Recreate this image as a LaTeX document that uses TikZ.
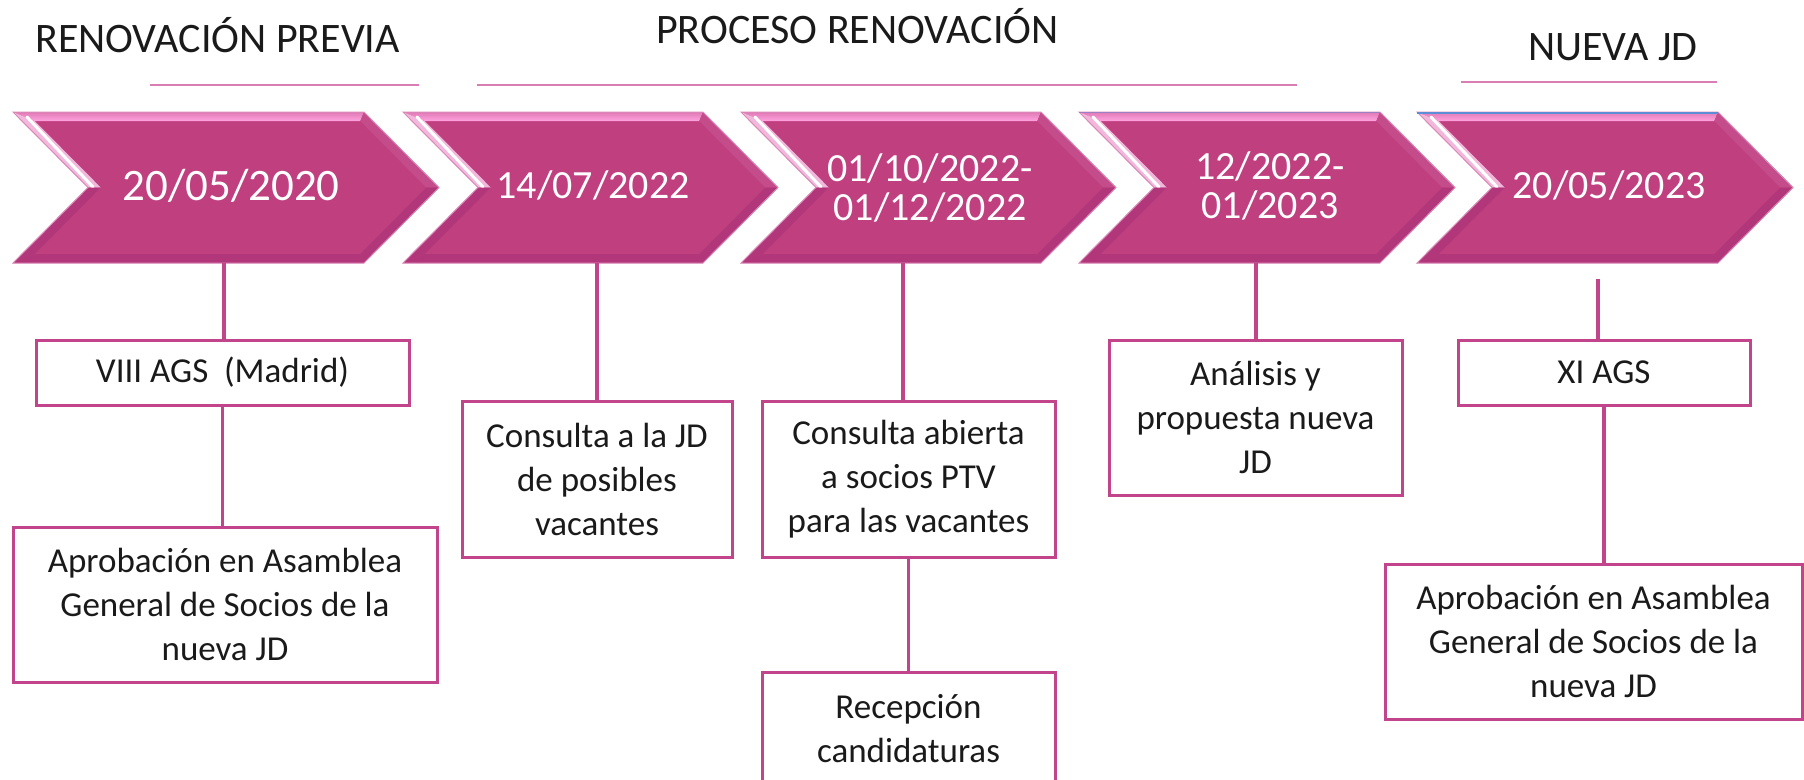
\documentclass[tikz,border=0pt]{standalone}
\usepackage{fontspec}
\setmainfont{Carlito}
\definecolor{chmain}{HTML}{BF3F7F}
\definecolor{chdark}{HTML}{B2377A}
\definecolor{chright}{HTML}{C54C8A}
\definecolor{chtopA}{HTML}{E07AB6}
\definecolor{chtopB}{HTML}{FFA2DE}
\definecolor{chleft}{HTML}{F2B8DC}
\definecolor{chedge}{HTML}{D98AB9}
\definecolor{boxc}{HTML}{C2448A}
\definecolor{hl}{HTML}{DA7DB2}
\definecolor{txt}{HTML}{1A1A1A}
\definecolor{blueedge}{HTML}{5B8ED6}
\definecolor{purpedge}{HTML}{9C80C4}
\newcommand\chevshape[2]{%
  \fill[chmain] (#1,112) -- (#2,112) -- ({#2+75},187.5) -- (#2,263) -- (#1,263) -- ({#1+75},187.5) -- cycle;
  \shade[top color=chtopA, bottom color=chtopB] (#1,112) -- (#2,112) -- ({#2-3.7},121) -- ({#1+21.7},121) -- cycle;
  \fill[chleft] (#1,112) -- ({#1+21.7},121) -- ({#1+87.7},187.5) -- ({#1+75},187.5) -- cycle;
  \draw[white, line width=3pt, line cap=round] ({#1+14},117) -- ({#1+80},187);
  \fill[chdark] ({#1+75},187.5) -- ({#1+87.7},187.5) -- ({#1+21.7},254) -- (#1,263) -- cycle;
  \fill[chdark] (#1,263) -- ({#1+21.7},254) -- ({#2-3.7},254) -- (#2,263) -- cycle;
  \fill[chright] (#2,112) -- ({#2+75},187.5) -- ({#2+62.3},187.5) -- ({#2-3.7},121) -- cycle;
  \fill[chdark] ({#2+75},187.5) -- (#2,263) -- ({#2-3.7},254) -- ({#2+62.3},187.5) -- cycle;
  \draw[chedge, line width=1pt] (#1,112) -- (#2,112) -- ({#2+75},187.5) -- (#2,263) -- (#1,263) -- ({#1+75},187.5) -- cycle;
}
\begin{document}
\begin{tikzpicture}[x=1pt,y=-1pt,
  box/.style={draw=boxc, line width=3pt, fill=white, inner sep=0pt, align=center, text=txt, font=\fontsize{35}{44}\selectfont},
  conn/.style={draw=boxc, line width=3.5pt},
  date/.style={text=white, align=center, inner sep=0pt, font=\fontsize{40}{39}\selectfont},
  head/.style={text=txt, inner sep=0pt, anchor=base west, font=\fontsize{42}{50}\selectfont},
  hline/.style={draw=hl, line width=2pt}]
\useasboundingbox (0,0) rectangle (1804,779);
\clip (0,0) rectangle (1804,779);

% headers
\node[head] (h1) at (35,52) {RENOVACIÓN PREVIA};
\node[head] (h2) at (656,43) {PROCESO RENOVACIÓN};
\node[head] (h3) at (1528,60) {NUEVA JD};
\draw[hline] (150,85) -- (419,85);
\draw[hline] (477,85) -- (1297,85);
\draw[hline] (1461,82) -- (1717,82);

% chevrons
\chevshape{13}{364}
\chevshape{403}{703}
\chevshape{741}{1041}
\chevshape{1079}{1380}
\draw[purpedge, line width=1.5pt] (1079,112.5) -- (1380,112.5);
\chevshape{1417}{1718}
\draw[blueedge, line width=2pt] (1417,112.5) -- (1718,112.5);

\node[date, anchor=base, font=\fontsize{45}{45}\selectfont] (d1) at (231,200) {20/05/2020};
\node[date, anchor=base] (d2) at (593,198) {14/07/2022};
\node[date, anchor=base] (d3) at (930,220) {01/10/2022-\\01/12/2022};
\node[date, anchor=base] (d4) at (1270,218) {12/2022-\\01/2023};
\node[date, anchor=base] (d5) at (1609,198) {20/05/2023};

\coordinate (k1) at (224,263);
\coordinate (k2) at (597,263);
\coordinate (k3) at (903,263);
\coordinate (k4) at (1256,263);
\coordinate (k5) at (1598,279);

% boxes
\node[box, minimum width=373, minimum height=65] (b1) at (222.5,372.5) {VIII AGS \ (Madrid)};
\node[box, minimum width=424, minimum height=155] (b2) at (225,604.5) {Aprobación en Asamblea\\General de Socios de la\\nueva JD};
\node[box, minimum width=270, minimum height=156] (b3) at (597,479) {Consulta a la JD\\de posibles\\vacantes};
\node[box, minimum width=293, minimum height=156] (b4) at (908.5,479) {Consulta abierta\\a socios PTV\\para las vacantes};
\node[box, minimum width=293, minimum height=114] (b5) at (908.5,729) {Recepción\\candidaturas};
\node[box, minimum width=293, minimum height=155] (b6) at (1255.5,417.5) {Análisis y\\propuesta nueva\\JD};
\node[box, minimum width=292, minimum height=65] (b7) at (1604,372.5) {XI AGS};
\node[box, minimum width=417, minimum height=155] (b8) at (1593.5,641.5) {Aprobación en Asamblea\\General de Socios de la\\nueva JD};

% connectors
\draw[conn] (k1) -- (k1 |- b1.north);
\draw[conn] (b1.south) -- (b1.south |- b2.north);
\draw[conn] (k2) -- (k2 |- b3.north);
\draw[conn] (k3) -- (k3 |- b4.north);
\draw[conn] (b4.south) -- (b4.south |- b5.north);
\draw[conn] (k4) -- (k4 |- b6.north);
\draw[conn] (k5) -- (k5 |- b7.north);
\draw[conn] (b7.south) -- (b7.south |- b8.north);
\end{tikzpicture}
\end{document}
